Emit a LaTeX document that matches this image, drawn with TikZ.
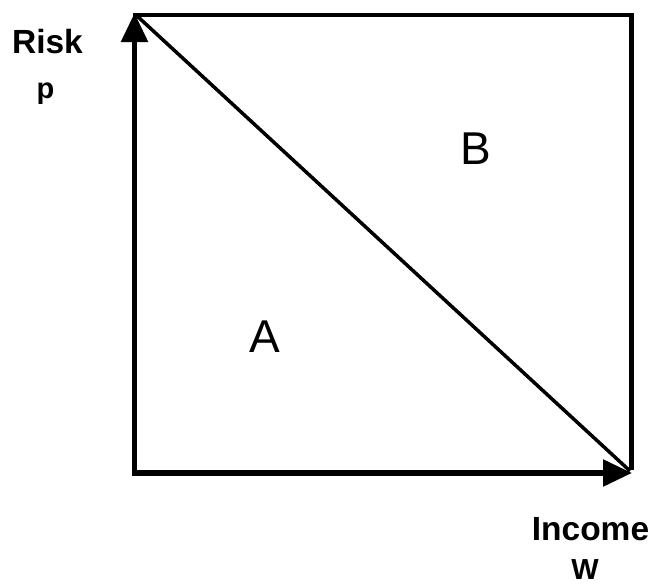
\documentclass[tikz,border=0pt]{standalone}
\usepackage{fontspec}
\setmainfont{Liberation Sans}
\usetikzlibrary{arrows.meta}
\begin{document}
\begin{tikzpicture}[x=1pt,y=1pt,
  axis/.style={line width=5.5pt,-{Triangle[length=29pt,width=26pt]}},
  edge/.style={line width=4.5pt},
  diag/.style={line width=3.5pt},
  biglbl/.style={font=\bfseries\fontsize{33.5}{33.5}\selectfont,anchor=base,inner sep=0pt},
  smalllbl/.style={font=\bfseries\fontsize{29}{29}\selectfont,anchor=base,inner sep=0pt},
  region/.style={font=\fontsize{46}{46}\selectfont,anchor=base,inner sep=0pt}]
\useasboundingbox (0,0) rectangle (651,-584);
\coordinate (O) at (134.5,-473);
\coordinate (Y) at (134.5,-13);
\coordinate (X) at (632,-473);
\coordinate (TR) at (631.5,-15);
\draw[edge] (132.5,-15) -- (TR) -- (631.5,-470);
\draw[diag] (136,-15) -- (630,-471);
\draw[axis] (134.5,-475.75) -- (Y);
\draw[axis] (131.75,-473) -- (X);
\node[biglbl] (risk) at (47.5,-53) {Risk};
\node[smalllbl] (p) at (45.5,-98.5) {p};
\node[biglbl] (inc) at (590.5,-540) {Income};
\node[smalllbl] (w) at (585,-579) {W};
\node[region] (A) at (265,-352) {A};
\node[region] (B) at (476,-164) {B};
\end{tikzpicture}
\end{document}
